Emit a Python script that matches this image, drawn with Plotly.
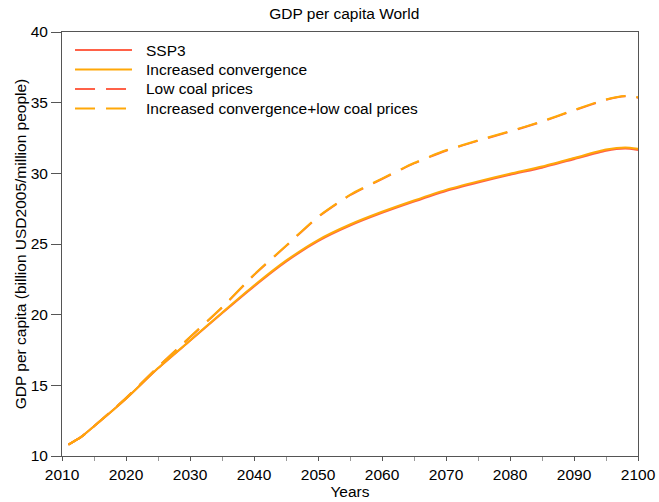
import plotly.graph_objects as go

# World GDP per capita, billion USD2005 per million people
years = [2011, 2013, 2015, 2020, 2025, 2030, 2035, 2040, 2045, 2050, 2055,
         2060, 2065, 2070, 2075, 2080, 2085, 2090, 2095, 2098, 2100]

ssp3 = [10.8, 11.35, 12.1, 14.05, 16.2, 18.15, 20.1, 22.0, 23.75, 25.2, 26.3,
        27.2, 28.0, 28.75, 29.35, 29.9, 30.4, 31.0, 31.6, 31.75, 31.65]

increased_convergence = [10.8, 11.35, 12.1, 14.05, 16.22, 18.18, 20.14, 22.06, 23.82, 25.28, 26.38,
                         27.28, 28.08, 28.83, 29.43, 29.98, 30.48, 31.08, 31.68, 31.83, 31.73]

low_coal = [10.8, 11.35, 12.1, 14.1, 16.3, 18.4, 20.5, 22.8, 24.85, 26.9, 28.45,
            29.6, 30.7, 31.6, 32.3, 32.95, 33.65, 34.45, 35.2, 35.45, 35.35]

conv_low_coal = [10.8, 11.35, 12.1, 14.1, 16.3, 18.42, 20.52, 22.83, 24.88, 26.93, 28.48,
                 29.63, 30.73, 31.63, 32.33, 32.98, 33.68, 34.48, 35.23, 35.48, 35.38]

x_ticks = list(range(2010, 2101, 10))
x_minor = list(range(2015, 2100, 10))
y_ticks = [10, 15, 20, 25, 30, 35, 40]

RED = "#FF6148"
ORANGE = "#FFA808"
DASH = "20px,11px"
FONT = "Liberation Sans, Arial, sans-serif"
FS = 15.5

series = [
    ("SSP3", ssp3, RED, "solid"),
    ("Increased convergence", increased_convergence, ORANGE, "solid"),
    ("Low coal prices", low_coal, RED, DASH),
    ("Increased convergence+low coal prices", conv_low_coal, ORANGE, DASH),
]

fig = go.Figure()
for name, values, color, dash in series:
    fig.add_trace(go.Scatter(
        x=years, y=values, name=name, mode="lines", showlegend=False,
        line=dict(color=color, width=2, dash=dash, shape="spline", smoothing=0.6),
    ))

# Legend drawn in the upper-left corner of the plot area: long line samples
# followed by the series names.
row_y = [0.9575, 0.9116, 0.8656, 0.8196]
for (name, _, color, dash), ry in zip(series, row_y):
    fig.add_shape(type="line", xref="paper", yref="paper",
                  x0=0.0226, x1=0.1215, y0=ry, y1=ry,
                  line=dict(color=color, width=2, dash=dash))
    fig.add_annotation(text=name, xref="paper", yref="paper", x=0.1425, y=ry,
                       xanchor="left", yanchor="middle", showarrow=False,
                       font=dict(size=FS, color="black"))

fig.update_layout(
    width=659, height=502,
    margin=dict(l=62, r=21, t=32, b=46),
    paper_bgcolor="white", plot_bgcolor="white",
    font=dict(family=FONT, size=FS, color="black"),
    title=dict(text="GDP per capita World", x=0.49, xref="paper",
               y=1 - 14 / 502, yref="container", yanchor="middle",
               font=dict(size=FS)),
    xaxis=dict(
        range=[2010, 2100], tickmode="array", tickvals=x_ticks,
        ticks="outside", ticklen=4, tickcolor="#555", tickwidth=1,
        minor=dict(tickvals=x_minor, ticks="outside", ticklen=4, tickcolor="#999"),
        showline=True, linecolor="#555", linewidth=1, mirror=True,
        showgrid=False, zeroline=False, automargin=False,
        tickfont=dict(size=FS),
        title=dict(text="Years", standoff=0, font=dict(size=FS)),
    ),
    yaxis=dict(
        range=[10, 40], tickmode="array", tickvals=y_ticks,
        ticks="outside", ticklen=10, tickcolor="#555", tickwidth=1,
        showline=True, linecolor="#555", linewidth=1, mirror=True,
        showgrid=False, zeroline=False, automargin=False,
        tickfont=dict(size=FS),
        title=dict(text="GDP per capita (billion USD2005/million people)",
                   standoff=0, font=dict(size=FS)),
    ),
)

fig.write_html("out.html")
